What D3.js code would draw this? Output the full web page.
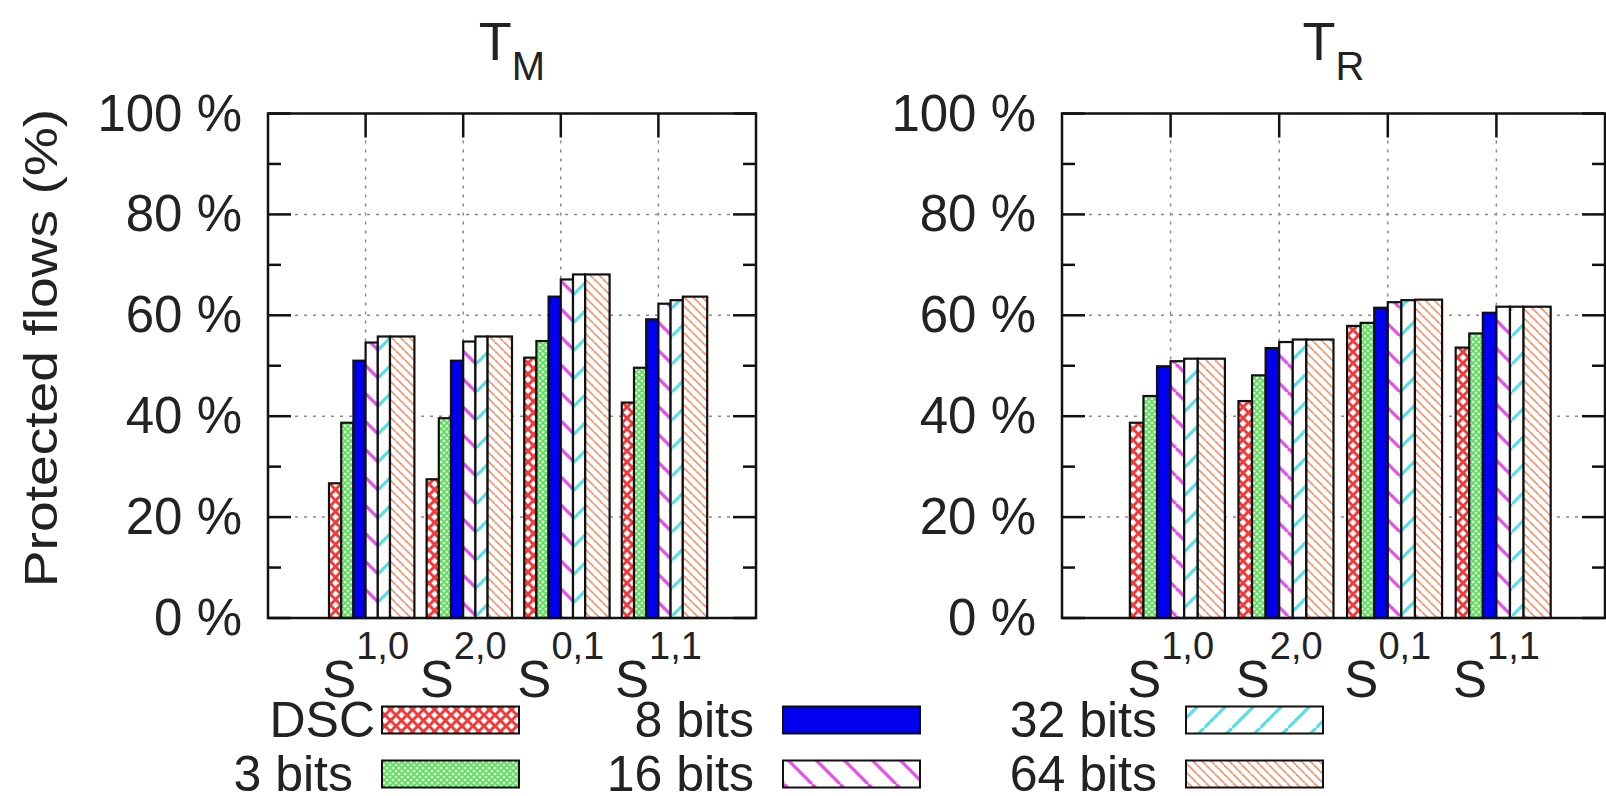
<!DOCTYPE html>
<html>
<head>
<meta charset="utf-8">
<script src="https://cdn.jsdelivr.net/npm/d3@7/dist/d3.min.js"></script>
<style>
  html, body { margin: 0; padding: 0; background: #fff; }
  svg { display: block; font-family: "Liberation Sans", Arial, sans-serif; }
</style>
</head>
<body>
<svg id="chart"></svg>
<script>
(function (d3) {
  'use strict'
  // data
  const groupSup = ['1,0', '2,0', '0,1', '1,1']
  const seriesNames = ['DSC', '3 bits', '8 bits', '16 bits', '32 bits', '64 bits']
  const yTicks = [0, 20, 40, 60, 80, 100]

  // T_M panel, one array per series (values for S1,0 S2,0 S0,1 S1,1)
  const tmDSC = [26.7, 27.5, 51.6, 42.7]
  const tm3bits = [38.7, 39.6, 54.9, 49.6]
  const tm8bits = [51.0, 51.0, 63.7, 59.2]
  const tm16bits = [54.6, 54.8, 67.1, 62.3]
  const tm32bits = [55.8, 55.8, 68.1, 63.0]
  const tm64bits = [55.8, 55.8, 68.1, 63.7]

  // T_R panel
  const trDSC = [38.7, 43.0, 57.9, 53.6]
  const tr3bits = [44.0, 48.1, 58.5, 56.4]
  const tr8bits = [49.9, 53.5, 61.5, 60.5]
  const tr16bits = [50.9, 54.7, 62.6, 61.7]
  const tr32bits = [51.4, 55.2, 63.0, 61.7]
  const tr64bits = [51.4, 55.2, 63.1, 61.7]

  const W = 1606
  const H = 796
  const Y_TOP = 113.5
  const Y_BOT = 618
  const BAR = 0.125

  const svg = d3.select('#chart').attr('width', W).attr('height', H)
  svg.append('rect').attr('width', W).attr('height', H).attr('fill', '#fff')

  // patterns
  const defs = svg.append('defs')
  function hatch(id, size, color, width, angles, bg) {
    const p = defs.append('pattern').attr('id', id)
      .attr('patternUnits', 'userSpaceOnUse')
      .attr('width', size).attr('height', size)
    p.append('rect').attr('width', size).attr('height', size).attr('fill', bg || '#fff')
    angles.forEach(a => {
      // a = 1 -> "/", a = -1 -> "\"
      const segs = a > 0
        ? [[0, size, size, 0], [-size, size, 0, 0], [size, size * 2, size * 2, size]]
        : [[0, 0, size, size], [-size, 0, 0, size], [size, 0, size * 2, size]]
      segs.forEach(s => p.append('line')
        .attr('x1', s[0]).attr('y1', s[1]).attr('x2', s[2]).attr('y2', s[3])
        .attr('stroke', color).attr('stroke-width', width))
    })
  }
  hatch('p-dsc', 11, '#f23a3a', 3, [1, -1])
  hatch('p-3', 6, '#5fdc5f', 1.6, [1, -1], '#dafad6')
  hatch('p-16', 28, '#e154e8', 3.2, [-1])
  hatch('p-32', 28, '#52e2e6', 3.2, [1])
  hatch('p-64', 9, '#f29a78', 1.8, [-1])
  const fills = ['url(#p-dsc)', 'url(#p-3)', '#0000ee', 'url(#p-16)', 'url(#p-32)', 'url(#p-64)']

  const panels = [
    { sub: 'M', x0: 268, x1: 756, series: [tmDSC, tm3bits, tm8bits, tm16bits, tm32bits, tm64bits] },
    { sub: 'R', x0: 1062, x1: 1605, series: [trDSC, tr3bits, tr8bits, tr16bits, tr32bits, tr64bits] }
  ]

  const y = d3.scaleLinear().domain([0, 100]).range([Y_BOT, Y_TOP])
  const minor = d3.range(10, 100, 20)

  panels.forEach(panel => {
    const x = d3.scaleLinear().domain([-1, 4]).range([panel.x0, panel.x1])
    const g = svg.append('g')
    const groups = d3.range(groupSup.length)

    // grid
    g.selectAll('.hgrid').data(yTicks.slice(1)).enter().append('line')
      .attr('x1', panel.x0).attr('x2', panel.x1)
      .attr('y1', d => y(d)).attr('y2', d => y(d))
      .attr('stroke', '#8a8a8a').attr('stroke-width', 1.5).attr('stroke-dasharray', '3,6')
    g.selectAll('.vgrid').data(groups).enter().append('line')
      .attr('x1', d => x(d)).attr('x2', d => x(d))
      .attr('y1', Y_TOP).attr('y2', Y_BOT)
      .attr('stroke', '#8a8a8a').attr('stroke-width', 1.5).attr('stroke-dasharray', '3,6')

    // ticks (mirrored)
    const tk = g.append('g').attr('stroke', '#111').attr('stroke-width', 2.5)
    yTicks.forEach(v => {
      tk.append('line').attr('x1', panel.x0).attr('x2', panel.x0 + 23).attr('y1', y(v)).attr('y2', y(v))
      tk.append('line').attr('x1', panel.x1).attr('x2', panel.x1 - 23).attr('y1', y(v)).attr('y2', y(v))
    })
    minor.forEach(v => {
      tk.append('line').attr('x1', panel.x0).attr('x2', panel.x0 + 13).attr('y1', y(v)).attr('y2', y(v))
      tk.append('line').attr('x1', panel.x1).attr('x2', panel.x1 - 13).attr('y1', y(v)).attr('y2', y(v))
    })
    groups.forEach(i => {
      tk.append('line').attr('x1', x(i)).attr('x2', x(i)).attr('y1', Y_TOP).attr('y2', Y_TOP + 24)
    })

    // bars
    panel.series.forEach((vals, j) => {
      const last = j === panel.series.length - 1
      g.selectAll('.bar' + j).data(vals).enter().append('rect')
        .attr('x', (d, i) => x(i + (j - 3) * BAR))
        .attr('width', (d, i) => x(i + (j - 2 + (last ? 1 : 0)) * BAR) - x(i + (j - 3) * BAR))
        .attr('y', d => y(d))
        .attr('height', d => Y_BOT - y(d))
        .attr('fill', fills[j])
        .attr('stroke', '#111').attr('stroke-width', 2.2)
    })

    // border
    g.append('rect').attr('x', panel.x0).attr('y', Y_TOP)
      .attr('width', panel.x1 - panel.x0).attr('height', Y_BOT - Y_TOP)
      .attr('fill', 'none').attr('stroke', '#111').attr('stroke-width', 2.5)

    // y labels
    g.selectAll('.ylab').data(yTicks).enter().append('text')
      .attr('x', panel.x0 - 26).attr('y', d => y(d) + 17)
      .attr('text-anchor', 'end').attr('font-size', 51).attr('fill', '#222')
      .text(d => d + ' %')

    // x labels
    const xl = g.selectAll('.xlab').data(groupSup).enter().append('text')
      .attr('x', (d, i) => x(i)).attr('y', 697)
      .attr('text-anchor', 'middle').attr('font-size', 51).attr('fill', '#222')
    xl.append('tspan').text('S')
    xl.append('tspan').attr('dy', -38).attr('font-size', 38).text(d => d)

    // title
    const t = g.append('text').attr('x', (panel.x0 + panel.x1) / 2).attr('y', 60)
      .attr('text-anchor', 'middle').attr('font-size', 54).attr('fill', '#222')
    t.append('tspan').text('T')
    t.append('tspan').attr('dy', 20).attr('font-size', 40).text(panel.sub)
  })

  // y axis title
  svg.append('text')
    .attr('transform', 'translate(57,348) rotate(-90) scale(1.2,1)')
    .attr('text-anchor', 'middle').attr('font-size', 46).attr('fill', '#222')
    .text('Protected flows (%)')

  // legend
  const boxX = [382, 783, 1186]
  const rowY = [720, 774]
  const leg = svg.append('g')
  seriesNames.forEach((name, k) => {
    const col = Math.floor(k / 2)
    const row = k % 2
    // gnuplot put the DSC key text closer to its sample
    const gap = name === 'DSC' ? 7 : 29
    leg.append('text').attr('x', boxX[col] - gap).attr('y', rowY[row] + 17)
      .attr('text-anchor', 'end').attr('font-size', 50).attr('fill', '#222').text(name)
    leg.append('rect').attr('x', boxX[col]).attr('y', rowY[row] - 13.5)
      .attr('width', 137).attr('height', 27)
      .attr('fill', fills[k]).attr('stroke', '#111').attr('stroke-width', 2)
  })
}(d3))
</script>
</body>
</html>
